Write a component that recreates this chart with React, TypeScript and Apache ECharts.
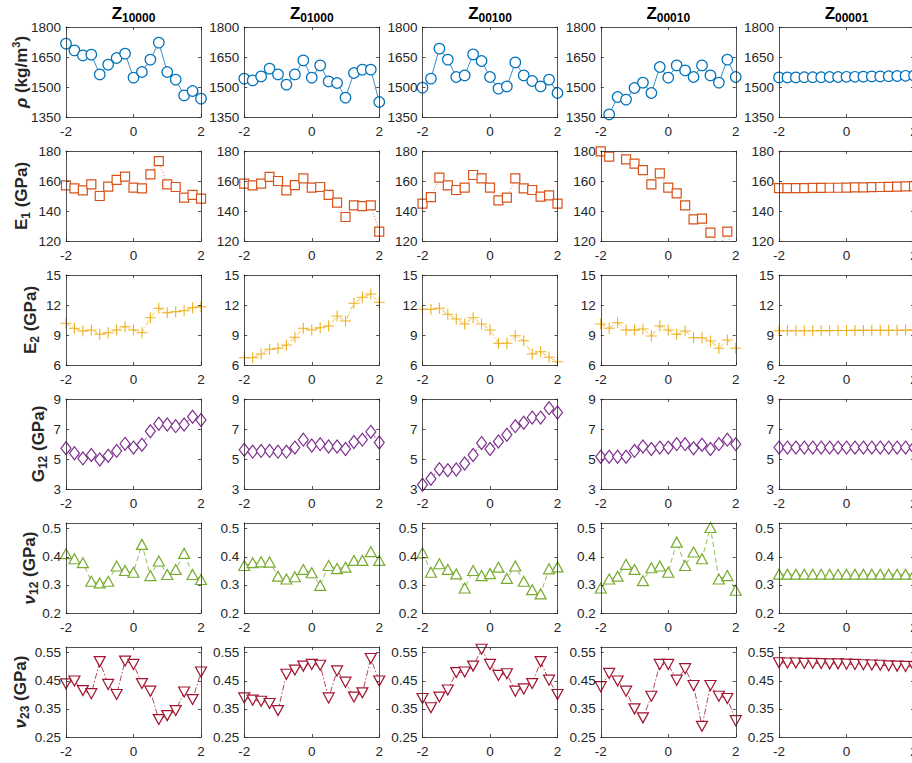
import React, { useEffect, useRef } from 'react';
import * as echarts from 'echarts';

// ---- data ----
const X = [-2, -1.75, -1.5, -1.25, -1, -0.75, -0.5, -0.25, 0, 0.25, 0.5, 0.75, 1, 1.25, 1.5, 1.75, 2];
const COLUMN_SUBS = ['10000', '01000', '00100', '00010', '00001'];

const RHO = [
  [1717, 1683, 1658, 1662, 1563, 1612, 1645, 1667, 1547, 1575, 1637, 1722, 1575, 1537, 1458, 1480, 1442],
  [1542, 1533, 1553, 1592, 1563, 1512, 1563, 1633, 1547, 1608, 1528, 1520, 1447, 1570, 1587, 1587, 1425],
  [1497, 1542, 1692, 1637, 1550, 1558, 1663, 1630, 1550, 1492, 1503, 1623, 1558, 1530, 1503, 1537, 1470],
  [1330, 1363, 1450, 1437, 1495, 1522, 1470, 1600, 1547, 1608, 1583, 1550, 1608, 1558, 1522, 1637, 1550],
  [1548, 1548, 1548, 1549, 1549, 1549, 1550, 1550, 1551, 1551, 1552, 1553, 1553, 1554, 1555, 1556, 1557],
];
const E1 = [
  [157.1, 155.1, 153.8, 157.8, 150, 156.2, 160.7, 162.9, 155.6, 155.1, 164.4, 173.3, 157.8, 156, 148.9, 150.7, 148.2],
  [158.2, 157.1, 158.2, 162.7, 160, 153.8, 157.3, 161.8, 155.6, 156, 150.7, 145.6, 136, 143.8, 143.3, 143.8, 126.2],
  [144.9, 149.3, 162.2, 157.1, 154, 155.6, 164, 161.8, 155.6, 147.1, 148.9, 161.8, 155.1, 154, 149.6, 150.4, 144.9],
  [179.8, 176.2, 184, 174.4, 171.6, 167.3, 157.8, 165.1, 155.6, 151.8, 143.8, 134.4, 134.9, 125.6, 116, 126.2, 105],
  [155.2, 155.2, 155.3, 155.3, 155.4, 155.4, 155.5, 155.5, 155.6, 155.7, 155.8, 155.9, 156.0, 156.1, 156.2, 156.4, 156.5],
];
const E2 = [
  [10.17, 9.67, 9.4, 9.5, 9.07, 9.23, 9.5, 9.83, 9.5, 9.23, 10.73, 11.67, 11.23, 11.33, 11.43, 11.73, 11.83],
  [6.73, 6.73, 7.1, 7.57, 7.67, 8.0, 8.77, 9.67, 9.5, 9.73, 9.9, 10.9, 10.4, 12.17, 12.77, 13.1, 12.27],
  [11.57, 11.57, 11.67, 11.07, 10.6, 10.1, 10.73, 10.1, 9.5, 8.17, 8.17, 8.93, 8.43, 7.1, 7.33, 6.77, 6.33],
  [10.1, 9.67, 10.23, 9.5, 9.5, 9.6, 8.9, 9.9, 9.5, 9.07, 9.4, 8.73, 8.73, 8.4, 7.67, 8.5, 7.67],
  [9.42, 9.42, 9.43, 9.43, 9.43, 9.44, 9.44, 9.45, 9.45, 9.46, 9.46, 9.47, 9.47, 9.48, 9.48, 9.49, 9.5],
];
const G12 = [
  [5.72, 5.38, 5.04, 5.27, 4.97, 5.22, 5.54, 6.01, 5.76, 5.95, 6.85, 7.35, 7.3, 7.19, 7.3, 7.82, 7.6],
  [5.61, 5.49, 5.54, 5.54, 5.49, 5.49, 5.76, 6.29, 5.9, 5.99, 5.83, 5.83, 5.67, 6.13, 6.29, 6.81, 6.1],
  [3.28, 3.68, 4.32, 4.25, 4.3, 4.7, 5.27, 6.06, 5.67, 6.17, 6.62, 7.19, 7.42, 7.76, 7.76, 8.39, 8.1],
  [5.15, 5.15, 5.15, 5.15, 5.54, 5.83, 5.67, 5.76, 5.76, 5.99, 5.99, 5.72, 5.95, 5.67, 5.99, 6.29, 5.99],
  [5.76, 5.76, 5.76, 5.76, 5.76, 5.76, 5.76, 5.76, 5.76, 5.76, 5.76, 5.76, 5.76, 5.76, 5.76, 5.76, 5.76],
];
const NU12 = [
  [0.411, 0.393, 0.379, 0.313, 0.307, 0.313, 0.367, 0.351, 0.345, 0.444, 0.333, 0.385, 0.337, 0.355, 0.412, 0.337, 0.319],
  [0.369, 0.379, 0.382, 0.381, 0.331, 0.321, 0.329, 0.355, 0.343, 0.298, 0.369, 0.358, 0.363, 0.387, 0.387, 0.418, 0.387],
  [0.414, 0.345, 0.375, 0.355, 0.339, 0.289, 0.351, 0.333, 0.34, 0.363, 0.323, 0.367, 0.313, 0.283, 0.268, 0.357, 0.364],
  [0.289, 0.321, 0.331, 0.373, 0.355, 0.315, 0.361, 0.367, 0.345, 0.452, 0.369, 0.417, 0.393, 0.504, 0.321, 0.333, 0.281],
  [0.338, 0.338, 0.338, 0.338, 0.338, 0.338, 0.338, 0.338, 0.338, 0.338, 0.338, 0.338, 0.338, 0.338, 0.338, 0.338, 0.338],
];
const NU23 = [
  [0.439, 0.449, 0.415, 0.404, 0.518, 0.437, 0.401, 0.52, 0.508, 0.44, 0.413, 0.312, 0.326, 0.344, 0.41, 0.383, 0.481],
  [0.389, 0.381, 0.377, 0.369, 0.344, 0.473, 0.488, 0.502, 0.508, 0.505, 0.389, 0.485, 0.445, 0.392, 0.407, 0.529, 0.449],
  [0.387, 0.354, 0.392, 0.417, 0.479, 0.481, 0.502, 0.562, 0.508, 0.469, 0.475, 0.413, 0.421, 0.44, 0.518, 0.452, 0.401],
  [0.429, 0.476, 0.449, 0.413, 0.35, 0.318, 0.395, 0.508, 0.508, 0.452, 0.493, 0.433, 0.288, 0.433, 0.395, 0.387, 0.308],
  [0.514, 0.513, 0.513, 0.512, 0.512, 0.511, 0.51, 0.51, 0.509, 0.508, 0.507, 0.506, 0.505, 0.503, 0.502, 0.501, 0.5],
];

const RHO_TICKS = [1350, 1500, 1650, 1800];
const E1_TICKS = [120, 140, 160, 180];
const E2_TICKS = [6, 9, 12, 15];
const G12_TICKS = [3, 5, 7, 9];
const NU12_TICKS = [0.2, 0.3, 0.4, 0.5];
const NU23_TICKS = [0.25, 0.35, 0.45, 0.55];
const X_TICKS = [-2, 0, 2];

// ---- styling / layout ----
const FONT = '"Liberation Sans", Arial, Helvetica, sans-serif';
const AX = '#262626';
const PLUS = 'path://M0,4.5h10v1h-10z M4.5,0h1v10h-1z';

const ROWS = [
  { data: RHO, ticks: RHO_TICKS, min: 1350, max: 1800, color: '#0072BD', symbol: 'circle', size: 10.5, rot: 0, dash: 'solid' as any,
    label: '{g|ρ}{n| (kg/m}{p|3}{n|)}', lx: 21 },
  { data: E1, ticks: E1_TICKS, min: 120, max: 180, color: '#D95319', symbol: 'rect', size: 9, rot: 0, dash: [1, 2],
    label: '{n|E}{s|1}{n| (GPa)}', lx: 21 },
  { data: E2, ticks: E2_TICKS, min: 6, max: 15, color: '#EDB120', symbol: PLUS, size: 11, rot: 0, dash: [5, 2, 1, 2],
    label: '{n|E}{s|2}{n| (GPa)}', lx: 30 },
  { data: G12, ticks: G12_TICKS, min: 3, max: 9, color: '#7E2F8E', symbol: 'diamond', size: [10, 13], rot: 0, dash: [4, 2.5],
    label: '{n|G}{s|12}{n| (GPa)}', lx: 38 },
  { data: NU12, ticks: NU12_TICKS, min: 0.2, max: 0.52, color: '#77AC30', symbol: 'triangle', size: [11, 10], rot: 0, dash: [5, 3],
    label: '{g|ν}{s|12}{n| (GPa)}', lx: 29 },
  { data: NU23, ticks: NU23_TICKS, min: 0.25, max: 0.57, color: '#A2142F', symbol: 'triangle', size: [11, 10], rot: 180, dash: [6, 2, 1.5, 2],
    label: '{g|ν}{s|23}{n| (GPa)}', lx: 20 },
];

const colLeft = (c: number) => 66 + c * 178.25;
const rowTop = (r: number) => 27 + r * 124;
const PW = 135;
const PH = 90;

function buildOption() {
  const grid: any[] = [];
  const xAxis: any[] = [];
  const yAxis: any[] = [];
  const series: any[] = [];
  const graphic: any[] = [];
  const line = { show: true, onZero: false, lineStyle: { color: AX, width: 0.8 } };
  const tick = { show: true, inside: true, length: 3, lineStyle: { color: AX, width: 0.8 } };
  const lab = { fontSize: 13.5, color: AX, fontFamily: FONT, formatter: (v: number) => String(v) };

  ROWS.forEach((row, r) => {
    for (let c = 0; c < 5; c++) {
      const gi = grid.length;
      grid.push({
        left: colLeft(c), top: rowTop(r), width: PW, height: PH, show: false,
        containLabel: false, outerBoundsMode: 'none',
      });
      xAxis.push({
        type: 'value', gridIndex: gi, position: 'bottom', min: -2, max: 2, interval: 2, z: 3,
        axisLine: line, axisTick: tick, splitLine: { show: false },
        axisLabel: { ...lab, margin: 7, customValues: X_TICKS },
      });
      xAxis.push({
        type: 'value', gridIndex: gi, position: 'top', min: -2, max: 2, interval: 2, z: 3,
        axisLine: line, axisTick: tick, splitLine: { show: false }, axisLabel: { show: false },
      });
      yAxis.push({
        type: 'value', gridIndex: gi, position: 'left', min: row.min, max: row.max, z: 3,
        axisLine: line, axisTick: { ...tick, customValues: row.ticks }, splitLine: { show: false },
        axisLabel: { ...lab, margin: 5, customValues: row.ticks },
      });
      yAxis.push({
        type: 'value', gridIndex: gi, position: 'right', min: row.min, max: row.max, z: 3,
        axisLine: line, axisTick: { ...tick, customValues: row.ticks }, splitLine: { show: false },
        axisLabel: { show: false },
      });
      const isPlus = row.symbol === PLUS;
      series.push({
        type: 'line',
        xAxisIndex: 2 * gi,
        yAxisIndex: 2 * gi,
        data: X.map((x, i) => [x, row.data[c][i]]),
        symbol: row.symbol,
        symbolSize: row.size,
        symbolRotate: row.rot,
        showSymbol: true,
        clip: true,
        silent: true,
        z: 2,
        itemStyle: isPlus
          ? { color: row.color, borderWidth: 0 }
          : { color: '#ffffff', borderColor: row.color, borderWidth: 1.2 },
        lineStyle: { color: row.color, width: 0.8, type: row.dash },
      });
    }
    // y label
    graphic.push({
      type: 'text',
      x: row.lx,
      y: rowTop(r) + PH / 2,
      rotation: Math.PI / 2,
      style: {
        text: row.label,
        align: 'center',
        verticalAlign: 'middle',
        fill: AX,
        rich: {
          n: { fontSize: 17, fontWeight: 'bold', fontFamily: FONT, lineHeight: 22, fill: AX },
          g: { fontSize: 17, fontWeight: 'bold', fontStyle: 'italic', fontFamily: FONT, lineHeight: 22, fill: AX },
          s: { fontSize: 12, fontWeight: 'bold', fontFamily: FONT, lineHeight: 12, verticalAlign: 'bottom', fill: AX },
          p: { fontSize: 11, fontWeight: 'bold', fontFamily: FONT, lineHeight: 11, verticalAlign: 'top', fill: AX },
        },
      },
    });
  });

  COLUMN_SUBS.forEach((sub, c) => {
    graphic.push({
      type: 'text',
      x: colLeft(c) + PW / 2,
      y: 13,
      style: {
        text: `{z|Z}{s|${sub}}`,
        align: 'center',
        verticalAlign: 'middle',
        fill: '#000',
        rich: {
          z: { fontSize: 17, fontWeight: 'bold', fontFamily: FONT, lineHeight: 22, fill: '#000' },
          s: { fontSize: 12, fontWeight: 'bold', fontFamily: FONT, lineHeight: 12, verticalAlign: 'bottom', fill: '#000' },
        },
      },
    });
  });

  return {
    animation: false,
    backgroundColor: '#ffffff',
    grid, xAxis, yAxis, series, graphic,
  };
}

export default function App() {
  const ref = useRef<HTMLDivElement>(null);
  useEffect(() => {
    if (!ref.current) return;
    const chart = echarts.init(ref.current, undefined, { renderer: 'svg' });
    chart.setOption(buildOption() as any);
    return () => chart.dispose();
  }, []);
  return <div ref={ref} style={{ position: 'absolute', left: 0, top: 0, width: 912, height: 763 }} />;
}
